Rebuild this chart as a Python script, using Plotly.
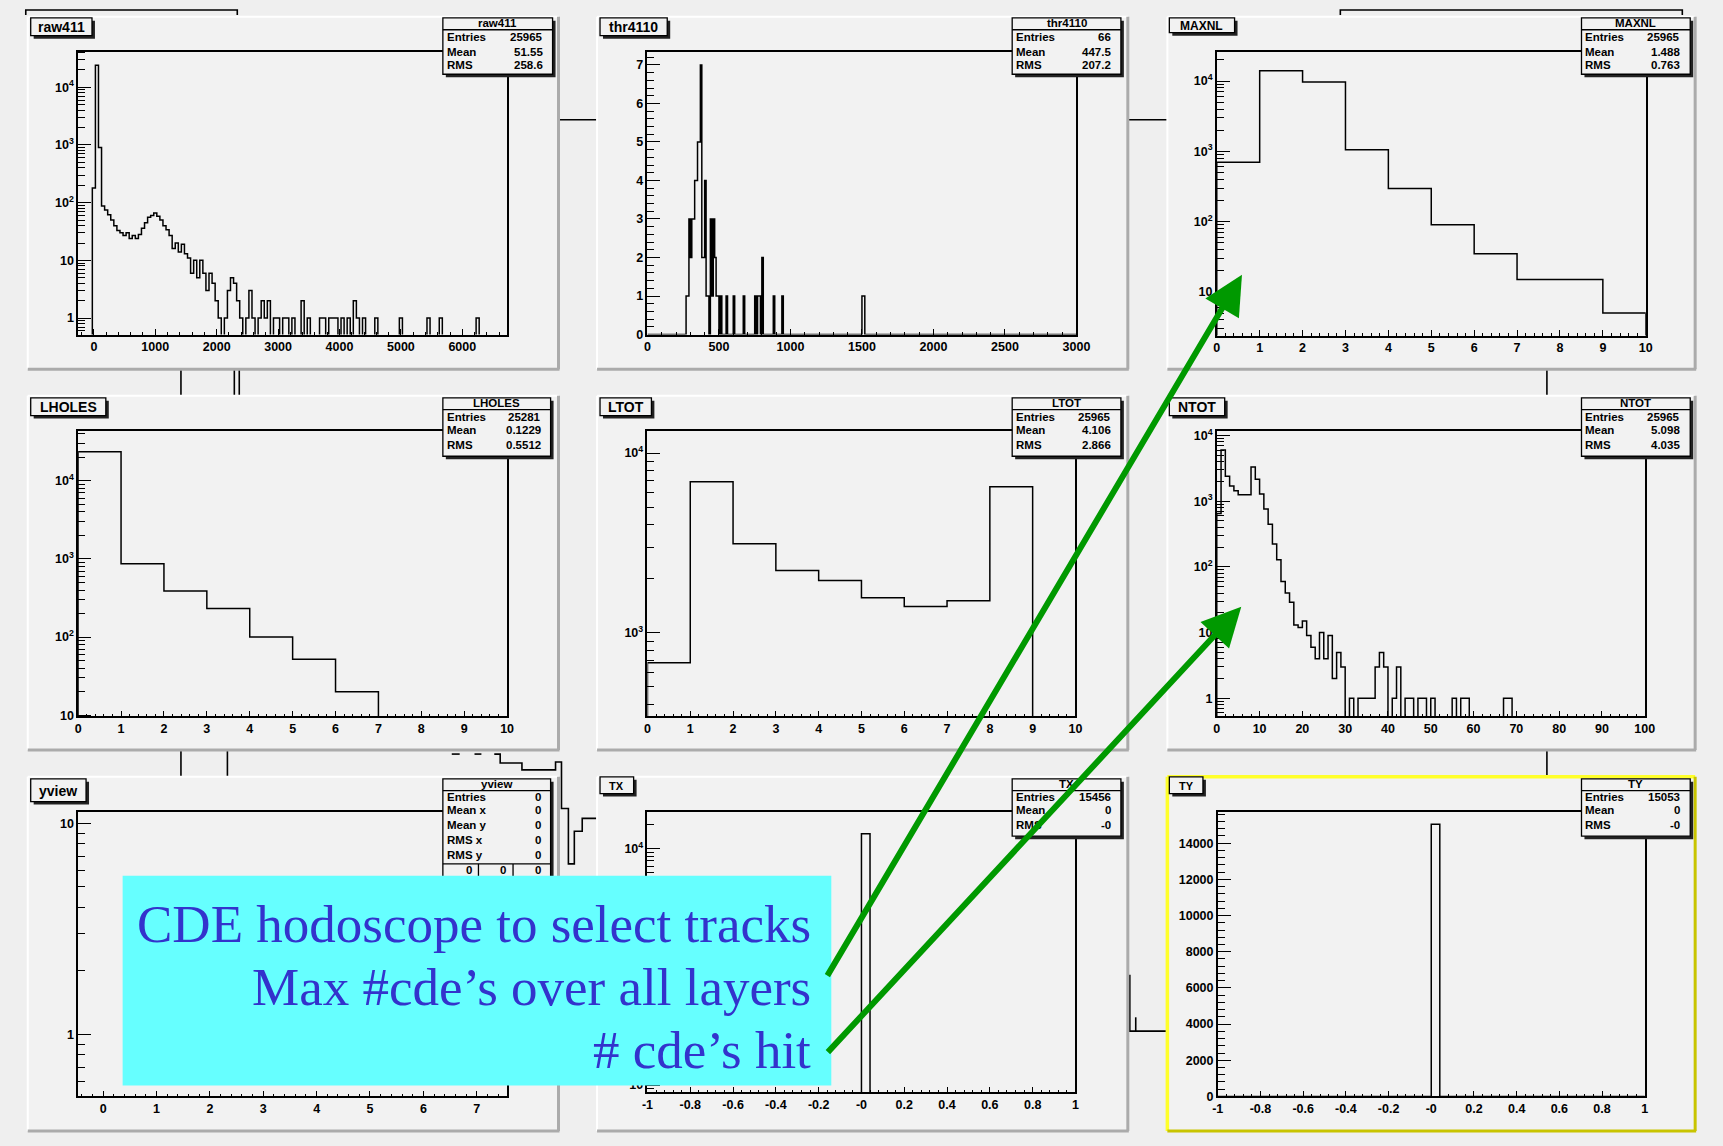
import math
import numpy as np
import plotly.graph_objects as go

W, H = 1723, 1146

# ---------------------------------------------------------------- data
raw411_bin_start = -225
raw411_bin_width = 50
raw411_counts = [
    0, 0, 0, 0, 180, 24000, 900, 88, 75, 62,
    50, 40, 33, 30, 27, 30, 24, 27, 24, 28,
    36, 45, 56, 60, 66, 58, 50, 40, 34, 27,
    16, 20, 14, 19, 13, 11, 6, 10, 5, 10,
    6, 3, 6, 4, 2, 1, 0, 1, 3, 5,
    4, 2, 1, 0, 1, 3, 1, 0, 1, 2,
    1, 2, 0, 1, 1, 0, 1, 1, 0, 1,
    0, 0, 2, 0, 1, 0, 0, 0, 1, 1,
    0, 1, 1, 1, 0, 1, 0, 1, 0, 2,
    1, 0, 1, 0, 0, 0, 1, 0, 0, 0,
    0, 0, 0, 0, 1, 0, 0, 0, 0, 0,
    0, 0, 0, 1, 0, 0, 0, 1, 0, 0,
    0, 0, 0, 0, 0, 0, 0, 0, 0, 1,
    0, 0, 0, 0, 0, 0, 0, 0, 0, 0,
]

thr4110_bin_start = 0
thr4110_bin_width = 10
thr4110_nbins = 300
thr4110_filled_bins = [270, 280, 290, 300, 310, 320, 330, 340, 350, 360, 370, 380, 390,
                       400, 410, 420, 440, 450, 460, 470, 480, 490, 510, 550, 600, 670,
                       750, 770, 780, 800, 880, 940, 1500, 1510]
thr4110_filled_counts = [1, 1, 3, 2, 3, 3, 4, 4, 5, 5, 7, 2, 2,
                         4, 1, 1, 3, 1, 3, 2, 1, 1, 1, 1, 1, 1,
                         1, 1, 1, 2, 1, 1, 1, 1]

maxnl_counts = [700, 14000, 9700, 1050, 295, 90, 35, 15, 15, 5]
lholes_counts = [23500, 870, 390, 232, 100, 52, 20, 0, 0, 0]
ltot_counts = [681, 6920, 3130, 2220, 1955, 1566, 1403, 1508, 6495, 0]

ntot_counts = [
    650, 6000, 2400, 1700, 1440, 1250, 1250, 1250, 3300, 2150,
    1290, 760, 445, 222, 128, 60, 40, 29, 13, 12,
    15, 9, 6, 4, 10, 4, 9, 2, 5, 3,
    0, 1, 0, 1, 1, 1, 1, 3, 5, 3,
    0, 1, 3, 0, 1, 1, 0, 1, 1, 0,
    1, 0, 0, 0, 0, 1, 0, 1, 1, 0,
    0, 0, 0, 0, 0, 0, 0, 1, 1, 0,
    0, 0, 0, 0, 0, 0, 0, 0, 0, 0,
    0, 0, 0, 0, 0, 0, 0, 0, 0, 0,
    0, 0, 0, 0, 0, 0, 0, 0, 0, 0,
]

tx_counts = [0, 0, 0, 0, 0, 0, 0, 0, 0, 0, 0, 0, 0, 0, 0, 0, 0, 0, 0, 0, 0, 0, 0, 0, 0,
             15456,
             0, 0, 0, 0, 0, 0, 0, 0, 0, 0, 0, 0, 0, 0, 0, 0, 0, 0, 0, 0, 0, 0, 0, 0]
ty_counts = [0, 0, 0, 0, 0, 0, 0, 0, 0, 0, 0, 0, 0, 0, 0, 0, 0, 0, 0, 0, 0, 0, 0, 0, 0,
             15053,
             0, 0, 0, 0, 0, 0, 0, 0, 0, 0, 0, 0, 0, 0, 0, 0, 0, 0, 0, 0, 0, 0, 0, 0]

pm1_tick_vals = [-1, -0.8, -0.6, -0.4, -0.2, 0, 0.2, 0.4, 0.6, 0.8, 1]
pm1_tick_text = ["-1", "-0.8", "-0.6", "-0.4", "-0.2", "-0", "0.2", "0.4", "0.6", "0.8", "1"]

stats_raw411 = [("Entries", "25965"), ("Mean", "51.55"), ("RMS", "258.6")]
stats_thr4110 = [("Entries", "66"), ("Mean", "447.5"), ("RMS", "207.2")]
stats_maxnl = [("Entries", "25965"), ("Mean", "1.488"), ("RMS", "0.763")]
stats_lholes = [("Entries", "25281"), ("Mean", "0.1229"), ("RMS", "0.5512")]
stats_ltot = [("Entries", "25965"), ("Mean", "4.106"), ("RMS", "2.866")]
stats_ntot = [("Entries", "25965"), ("Mean", "5.098"), ("RMS", "4.035")]
stats_yview = [("Entries", "0"), ("Mean x", "0"), ("Mean y", "0"), ("RMS x", "0"), ("RMS y", "0")]
stats_tx = [("Entries", "15456"), ("Mean", "0"), ("RMS", "-0")]
stats_ty = [("Entries", "15053"), ("Mean", "0"), ("RMS", "-0")]

note_lines = ["CDE hodoscope to select tracks", "Max #cde\u2019s over all layers", "# cde\u2019s hit"]

# ---------------------------------------------------------------- helpers
CANVAS = "#efefef"
PAD = "#f2f2f2"
FONT = "Liberation Sans"


def X(p):
    return p / W


def Y(p):
    return 1 - p / H


shapes = []
annotations = []


def line(x0, y0, x1, y1, color="black", width=1.5, layer="below"):
    shapes.append(dict(type="line", xref="paper", yref="paper", x0=X(x0), y0=Y(y0),
                       x1=X(x1), y1=Y(y1), line=dict(color=color, width=width), layer=layer))


def rect(x0, y0, x1, y1, fill, lc=None, lw=0, layer="below"):
    shapes.append(dict(type="rect", xref="paper", yref="paper", x0=X(x0), y0=Y(y0),
                       x1=X(x1), y1=Y(y1), fillcolor=fill,
                       line=dict(color=lc if lc else fill, width=lw), layer=layer))


def polyline(pts, color="black", width=1.5, layer="below"):
    d = "M" + " L".join(f"{X(a):.5f},{Y(b):.5f}" for a, b in pts)
    shapes.append(dict(type="path", xref="paper", yref="paper", path=d,
                       line=dict(color=color, width=width), layer=layer))


def text(x, y, s, size, anchor="left", weight="bold", family=FONT, color="black"):
    annotations.append(dict(xref="paper", yref="paper", x=X(x), y=Y(y), text=s, showarrow=False,
                            xanchor=anchor, yanchor="middle", borderpad=0,
                            font=dict(family=family, size=size, color=color, weight=weight)))


def step(start, width, counts, base):
    c = np.asarray(counts, dtype=float)
    c = np.where(c > 0, c, base)
    edges = start + width * np.arange(len(c) + 1)
    xs = np.repeat(edges, 2)
    ys = np.concatenate(([base], np.repeat(c, 2), [base]))
    return xs, ys


thr4110_counts = np.zeros(thr4110_nbins)
for b, c in zip(thr4110_filled_bins, thr4110_filled_counts):
    thr4110_counts[(b - thr4110_bin_start) // thr4110_bin_width] = c

SUP = {0: "1", 1: "10", 2: "10<sup>2</sup>", 3: "10<sup>3</sup>", 4: "10<sup>4</sup>"}

# ---------------------------------------------------------------- canvas decoration (background pads)
decor = [
    [(20, 10), (20, 5), (234, 5), (234, 10)],
    [(559, 116), (598, 116)],
    [(1135, 116), (1175, 116)],
    [(1350, 10), (1350, 5), (1696, 5), (1696, 10)],
    [(177, 366), (177, 396)], [(231, 366), (231, 396)], [(236, 366), (236, 396)],
    [(1559, 366), (1559, 396)], [(1559, 751), (1559, 781)],
    [(177, 751), (177, 781)], [(224, 751), (224, 781)],
    [(451, 757), (459, 757)], [(474, 757), (481, 757)],
    [(494, 757), (500, 757), (500, 766), (522, 766), (522, 773), (556, 773), (556, 765),
     (562, 765), (562, 812), (569, 812), (569, 868), (575, 868), (575, 835), (583, 835),
     (583, 822), (598, 822)],
    [(1137, 980), (1137, 1037), (1175, 1037)], [(1143, 1023), (1143, 1037)],
]
for pts in decor:
    polyline(pts, width=1.6)

pad_cols = [(22, 559), (598, 1135), (1175, 1709)]
pad_rows = [(12, 368), (395, 753), (780, 1138)]
for ci, (px0, px1) in enumerate(pad_cols):
    for ri, (py0, py1) in enumerate(pad_rows):
        rect(px0, py0, px1, py1, PAD)
        if (ci, ri) == (2, 2):
            hi, lo, w = "#ffff2a", "#c8c400", 3.5
        else:
            hi, lo, w = "#ffffff", "#ababab", 2
        line(px0, py0, px1, py0, hi, w)
        line(px0, py0, px0, py1, hi, w)
        line(px0, py1, px1 + 1, py1, lo, 3)
        line(px1, py0, px1, py1, lo, 3)

# ---------------------------------------------------------------- panels
panels = [
    dict(name="raw411", frame=(73, 47, 507, 333), log=True, yr=(-0.285, 4.62),
         xr=[-256, 6730], xt0=0, xdt=1000, xminor=200,
         start=raw411_bin_start, width=raw411_bin_width, counts=raw411_counts,
         title=(25, 13, 87, 31, 14), stats=stats_raw411, sbox=(442, 13, 553, 70), row=0),
    dict(name="thr4110", frame=(649, 47, 1083, 333), log=False, yr=(0, 7.35), ydt=1, yminor=0.2,
         xr=[0, 3000], xt0=0, xdt=500, xminor=100,
         start=thr4110_bin_start, width=thr4110_bin_width, counts=thr4110_counts,
         title=(601, 13, 669, 31, 14), stats=stats_thr4110, sbox=(1018, 13, 1128, 70), row=0),
    dict(name="MAXNL", frame=(1225, 47, 1659, 334), log=True, yr=(0.38, 4.42),
         xr=[0, 10], xt0=0, xdt=1, xminor=0.2,
         start=0, width=1, counts=maxnl_counts,
         title=(1177, 13, 1243, 28, 12), stats=stats_maxnl, sbox=(1594, 13, 1704, 70), row=0),
    dict(name="LHOLES", frame=(73, 431, 507, 719), log=True, yr=(0.985, 4.63),
         xr=[0, 10], xt0=0, xdt=1, xminor=0.2,
         start=0, width=1, counts=lholes_counts,
         title=(25, 397, 101, 415, 14), stats=stats_lholes, sbox=(442, 397, 551, 456), row=1),
    dict(name="LTOT", frame=(649, 431, 1082, 719), log=True, yr=(2.535, 4.12),
         xr=[0, 10], xt0=0, xdt=1, xminor=0.2,
         start=0, width=1, counts=ltot_counts,
         title=(601, 397, 653, 415, 14), stats=stats_ltot, sbox=(1018, 397, 1128, 456), row=1),
    dict(name="NTOT", frame=(1225, 431, 1658, 719), log=True, yr=(-0.276, 4.06),
         xr=[0, 100], xt0=0, xdt=10, xminor=2,
         start=0, width=1, counts=ntot_counts,
         title=(1177, 397, 1233, 415, 14), stats=stats_ntot, sbox=(1594, 397, 1704, 456), row=1),
    dict(name="yview", frame=(73, 816, 507, 1103), log=True, yr=(-0.294, 1.052),
         xr=[-0.47, 7.57], xt0=0, xdt=1, xminor=0.2,
         start=None, width=None, counts=None,
         title=(25, 782, 81, 805, 14), stats=stats_yview, sbox=(442, 782, 551, 890), row=2),
    dict(name="TX", frame=(649, 816, 1082, 1099), log=True, yr=(0.905, 4.46), hide_dec=[2, 3],
         xr=[-1, 1], xtv=pm1_tick_vals, xtt=pm1_tick_text, xt0=0, xminor=0.04,
         start=-1, width=0.04, counts=tx_counts,
         title=(601, 780, 635, 797, 11), stats=stats_tx, sbox=(1018, 782, 1128, 840), row=2),
    dict(name="TY", frame=(1226, 816, 1658, 1103), log=False, yr=(0, 15700), ydt=2000, yminor=400,
         xr=[-1, 1], xtv=pm1_tick_vals, xtt=pm1_tick_text, xt0=0, xminor=0.04,
         start=-1, width=0.04, counts=ty_counts,
         title=(1177, 780, 1211, 797, 11), stats=stats_ty, sbox=(1594, 782, 1704, 840), row=2),
]

row_layout = {
    0: dict(header=18, sep=25, rows=[32, 47, 61]),
    1: dict(header=402, sep=409, rows=[416, 430, 445]),
    2: dict(header=787, sep=794, rows=[800, 814, 829, 844, 859]),
}

STAT_SIZE = 11.5
TICKFONT = dict(family=FONT, size=12.5, color="black", weight="bold")
axis_common = dict(showline=True, mirror=True, linecolor="black", linewidth=1.5,
                   ticks="inside", tickcolor="black", tickwidth=1.2, showgrid=False,
                   zeroline=False, tickfont=TICKFONT, fixedrange=True)

fig = go.Figure()
layout = dict(width=W, height=H, autosize=False, margin=dict(l=0, r=0, t=0, b=0, pad=0),
              paper_bgcolor=CANVAS, plot_bgcolor="rgba(0,0,0,0)", showlegend=False)

for i, p in enumerate(panels, start=1):
    sx = "" if i == 1 else str(i)
    fx0, fy0, fx1, fy1 = p["frame"]
    xa = dict(axis_common, domain=[X(fx0), X(fx1)], anchor="y" + sx, range=p["xr"], ticklen=6,
              minor=dict(ticks="inside", ticklen=3, tickwidth=1, tickcolor="black",
                         tick0=p["xt0"], dtick=p["xminor"], showgrid=False))
    if "xtv" in p:
        xa.update(tickmode="array", tickvals=p["xtv"], ticktext=p["xtt"])
    else:
        xa.update(tickmode="linear", tick0=p["xt0"], dtick=p["xdt"], tickformat="d")
    ya = dict(axis_common, domain=[Y(fy1), Y(fy0)], anchor="x" + sx, ticklen=13)
    lo, hi = p["yr"]
    if p["log"]:
        majors = [d for d in range(math.ceil(lo), math.floor(hi) + 1)]
        minors = [m * 10.0 ** d for d in range(math.floor(lo) - 1, math.ceil(hi) + 1)
                  for m in range(2, 10) if lo <= math.log10(m * 10.0 ** d) <= hi]
        hidden = p.get("hide_dec", [])
        ya.update(type="log", range=[lo, hi], tickmode="array",
                  tickvals=[10.0 ** d for d in majors],
                  ticktext=["" if d in hidden else SUP[d] for d in majors],
                  minor=dict(tickmode="array", tickvals=minors, ticks="inside", ticklen=7,
                             tickwidth=1, tickcolor="black", showgrid=False))
        base = 1e-3
    else:
        ya.update(range=[lo, hi], tickmode="linear", tick0=0, dtick=p["ydt"], tickformat="d",
                  minor=dict(ticks="inside", ticklen=7, tickwidth=1, tickcolor="black",
                             tick0=0, dtick=p["yminor"], showgrid=False))
        base = 0
    layout["xaxis" + sx] = xa
    layout["yaxis" + sx] = ya

    if p["counts"] is not None:
        xs, ys = step(p["start"], p["width"], p["counts"], base)
    else:
        xs, ys = [], []
    fig.add_trace(go.Scatter(x=xs, y=ys, mode="lines", xaxis="x" + sx, yaxis="y" + sx,
                             line=dict(color="black", width=1.5), hoverinfo="skip"))

    # title box
    tx0, ty0, tx1, ty1, tsz = p["title"]
    rect(tx0 + 3, ty0 + 3, tx1 + 3, ty1 + 3, "#222222", layer="above")
    rect(tx0, ty0, tx1, ty1, PAD, "black", 1.3, layer="above")
    text((tx0 + tx1) / 2, (ty0 + ty1) / 2 + 0.5, p["name"], tsz, "center")

    # stats box
    bx0, by0, bx1, by1 = p["sbox"]
    rl = row_layout[p["row"]]
    rect(bx0 + 3, by0 + 3, bx1 + 3, by1 + 3, "#222222", layer="above")
    rect(bx0, by0, bx1, by1, PAD, "black", 1.3, layer="above")
    line(bx0, rl["sep"], bx1, rl["sep"], "black", 1.3, layer="above")
    text((bx0 + bx1) / 2, rl["header"], p["name"], STAT_SIZE, "center")
    for (lab, val), yy in zip(p["stats"], rl["rows"]):
        text(bx0 + 3, yy, lab, STAT_SIZE, "left")
        text(bx1 - 9, yy, val, STAT_SIZE, "right")
    if p["name"] == "yview":
        line(bx0, 868, bx1, 868, "black", 1.3, layer="above")
        line(478, 868, 478, 890, "black", 1.3, layer="above")
        line(513, 868, 513, 890, "black", 1.3, layer="above")
        for cx in (468, 503, 538):
            text(cx, 874, "0", STAT_SIZE, "center")

# ---------------------------------------------------------------- highlight box + arrows
rect(118, 880, 835, 1092, "#66ffff", layer="above")
for s, yy in zip(note_lines, [929, 992, 1056]):
    text(815, yy, s, 53, "right", weight="normal", family="Liberation Serif", color="#3333cc")

for tip, tail in [((1250.5, 272.7), (835, 975)), ((1249.8, 608), (835, 1055))]:
    annotations.append(dict(xref="paper", yref="paper", x=X(tip[0]), y=Y(tip[1]),
                            ax=tail[0] - tip[0], ay=tail[1] - tip[1], axref="pixel", ayref="pixel",
                            text="", showarrow=True, arrowhead=2, arrowsize=1.3, arrowwidth=6,
                            arrowcolor="#009900", standoff=0, startstandoff=0))

layout["shapes"] = shapes
layout["annotations"] = annotations
fig.update_layout(**layout)
fig.write_html("out.html")
